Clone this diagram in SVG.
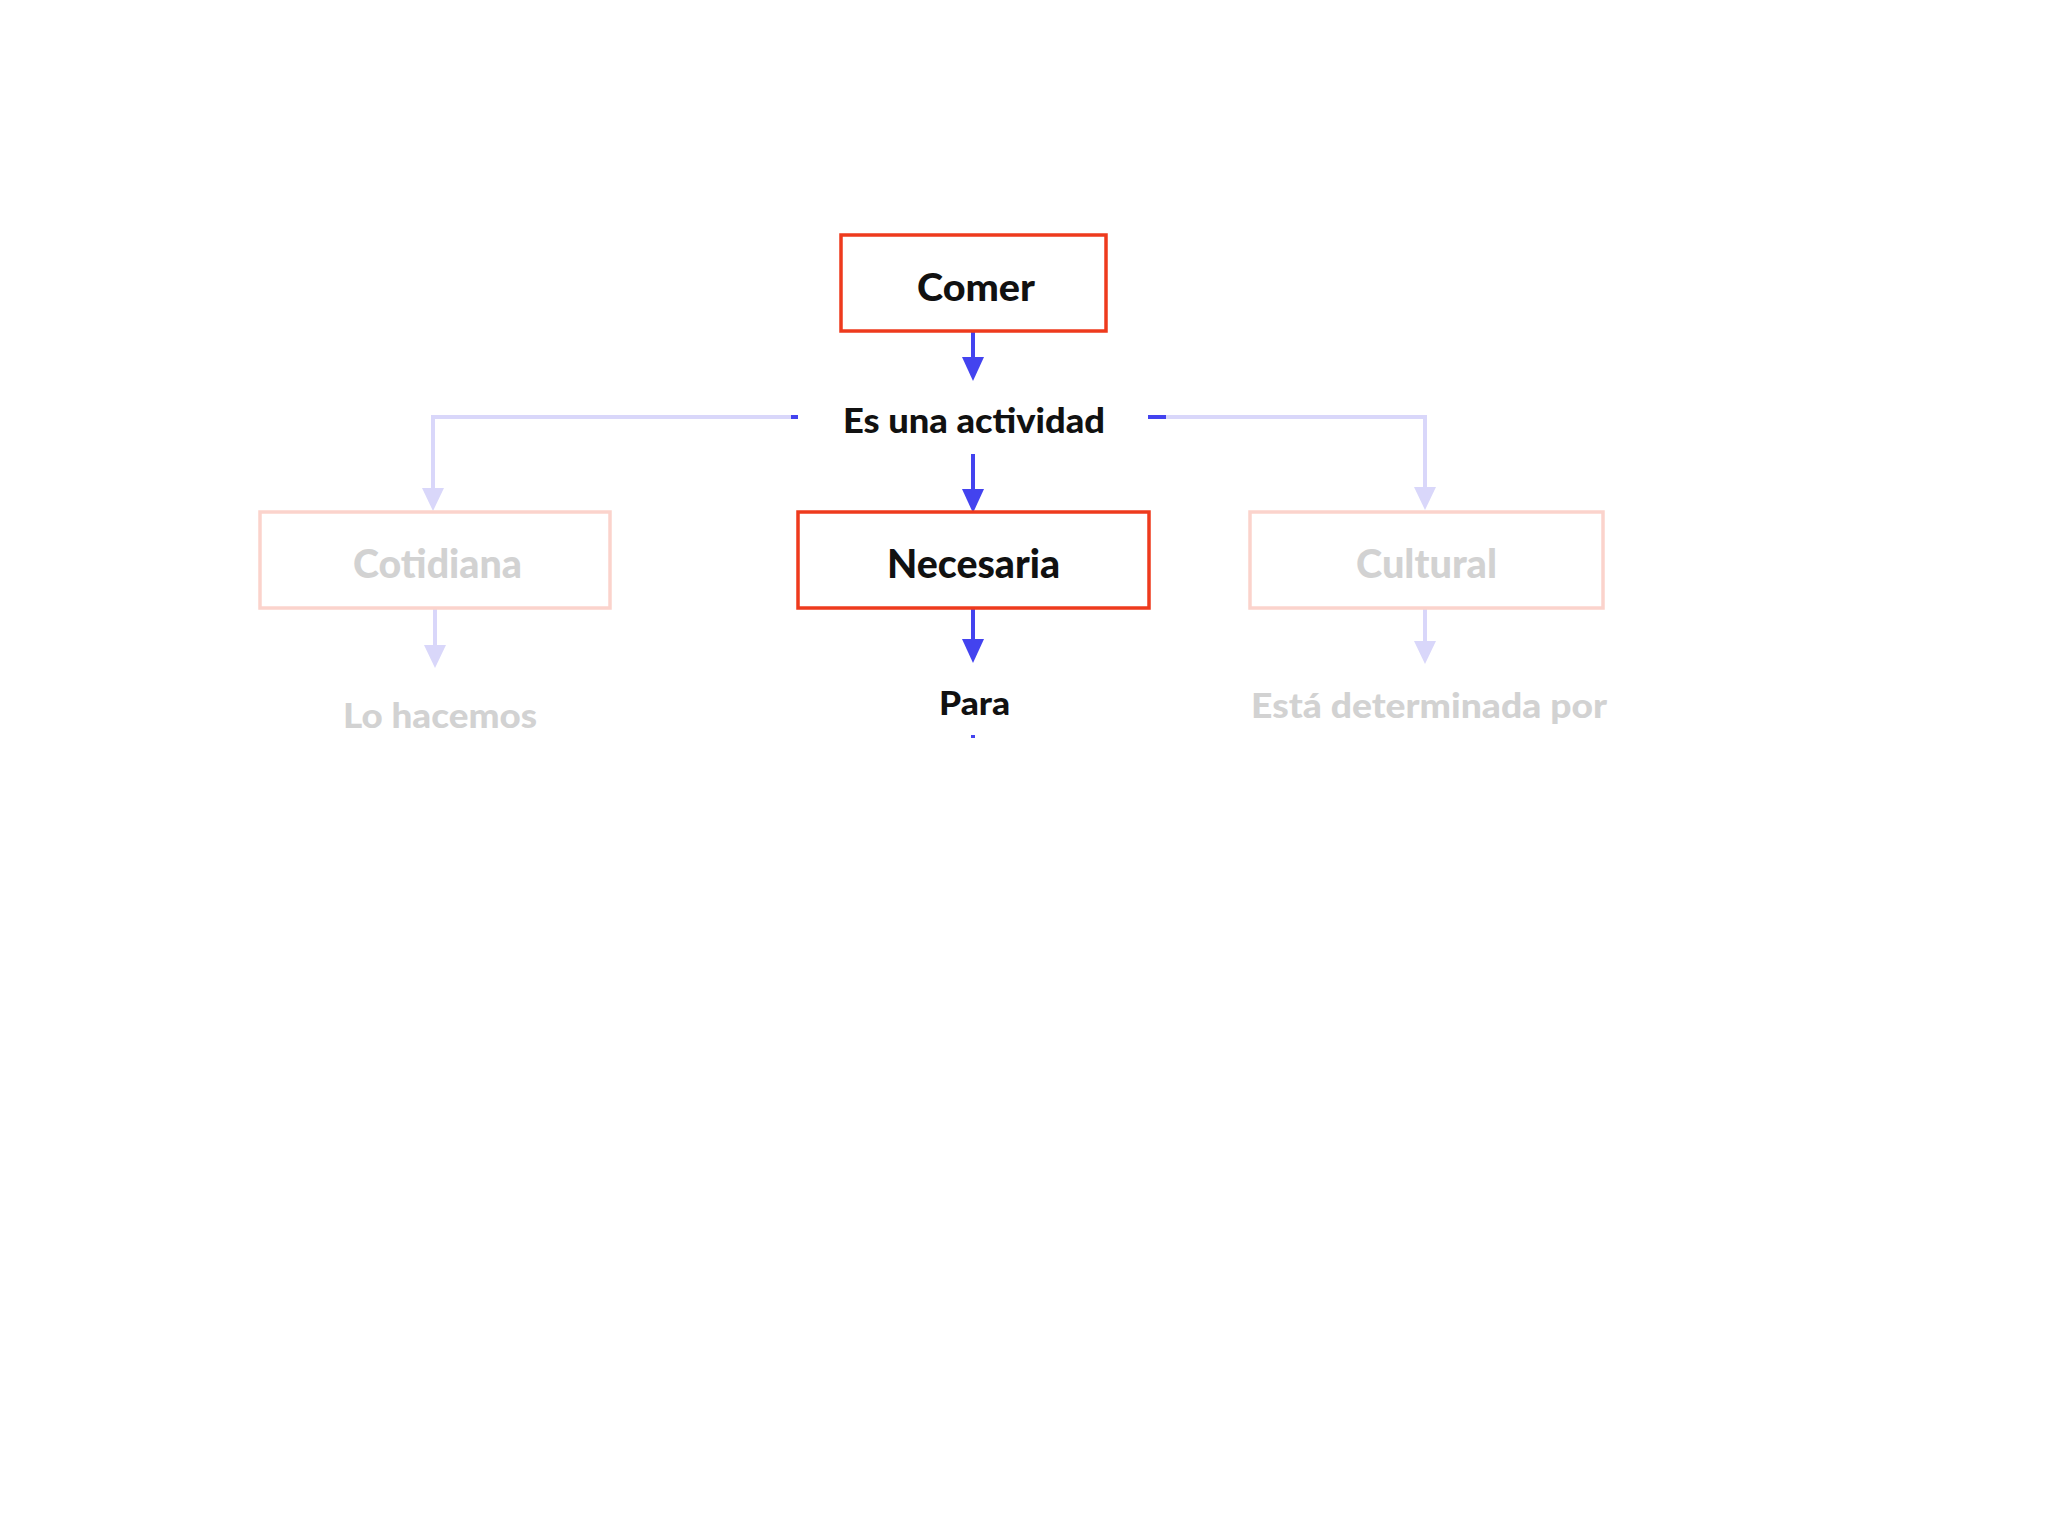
<svg xmlns="http://www.w3.org/2000/svg" width="2048" height="1536" viewBox="0 0 2048 1536">
<style>
.box{fill:#ffffff;stroke:#ee3a1d;stroke-width:3.5}
.faint{fill:#ffffff;stroke:#fbd3cc;stroke-width:3.5}
.t{font-family:Lato,"Open Sans","Liberation Sans",sans-serif;font-weight:900;text-anchor:middle;fill:#111111}
.g{fill:#d2d2d2}
.c{stroke:#4343ef;stroke-width:4;fill:none}
.cl{stroke:#d9d7fa;stroke-width:4;fill:none}
</style>
<rect width="2048" height="1536" fill="#ffffff"/>
<g id="connectors">
<line class="c" x1="973" y1="331" x2="973" y2="358"/>
<path d="M962,357 L984,357 L973,381 Z" fill="#4343ef"/>
<line class="c" x1="973" y1="454" x2="973" y2="490"/>
<path d="M962,489 L984,489 L973,513 Z" fill="#4343ef"/>
<line class="c" x1="973" y1="608" x2="973" y2="640"/>
<path d="M962,639 L984,639 L973,663 Z" fill="#4343ef"/>
<line class="c" x1="973" y1="735" x2="973" y2="738" stroke-width="3"/>
<path class="cl" d="M791,417 L433,417 L433,489"/>
<path d="M422,488 L444,488 L433,511 Z" fill="#d9d7fa"/>
<line class="c" x1="791" y1="417" x2="798" y2="417"/>
<path class="cl" d="M1166,417 L1425,417 L1425,489"/>
<path d="M1414,487 L1436,487 L1425,510 Z" fill="#d9d7fa"/>
<line class="c" x1="1148" y1="417" x2="1166" y2="417"/>
<line class="cl" x1="435" y1="608" x2="435" y2="646"/>
<path d="M424,645 L446,645 L435,668 Z" fill="#d9d7fa"/>
<line class="cl" x1="1425" y1="608" x2="1425" y2="642"/>
<path d="M1414,641 L1436,641 L1425,664 Z" fill="#d9d7fa"/>
</g>
<g id="comer">
<rect class="box" x="841" y="235" width="265" height="96"/>
<text class="t" x="976" y="301" font-size="38" textLength="118" lengthAdjust="spacingAndGlyphs">Comer</text>
</g>
<g id="es-una-actividad">
<text class="t" x="974" y="433" font-size="34" textLength="262" lengthAdjust="spacingAndGlyphs">Es una actividad</text>
</g>
<g id="necesaria">
<rect class="box" x="798" y="512" width="351" height="96"/>
<text class="t" x="973.5" y="578" font-size="39" textLength="173" lengthAdjust="spacingAndGlyphs">Necesaria</text>
</g>
<g id="cotidiana">
<rect class="faint" x="260" y="512" width="350" height="96"/>
<text class="t g" x="437.5" y="578" font-size="39" textLength="169" lengthAdjust="spacingAndGlyphs">Cotidiana</text>
</g>
<g id="cultural">
<rect class="faint" x="1250" y="512" width="353" height="96"/>
<text class="t g" x="1426.5" y="578" font-size="39" textLength="141" lengthAdjust="spacingAndGlyphs">Cultural</text>
</g>
<g id="para">
<text class="t" x="974.5" y="715" font-size="33" textLength="71" lengthAdjust="spacingAndGlyphs">Para</text>
</g>
<g id="lo-hacemos">
<text class="t g" x="440" y="728" font-size="35" textLength="194" lengthAdjust="spacingAndGlyphs">Lo hacemos</text>
</g>
<g id="esta-determinada-por">
<text class="t g" x="1429" y="718" font-size="34" textLength="356" lengthAdjust="spacingAndGlyphs">Está determinada por</text>
</g>
</svg>
